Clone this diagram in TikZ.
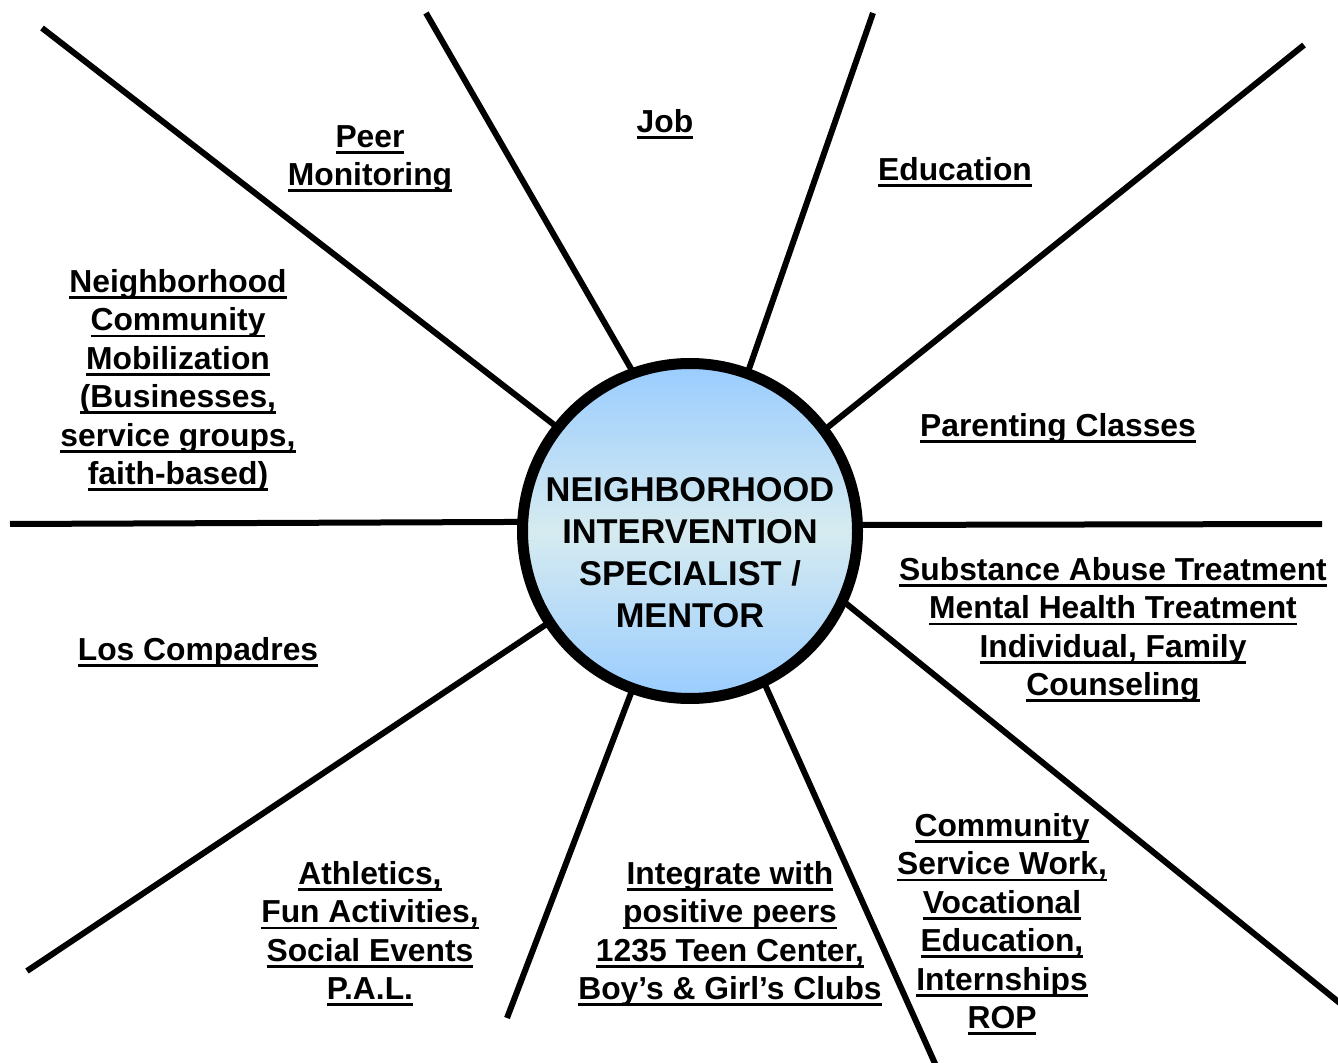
\documentclass[tikz,border=0pt]{standalone}
\usepackage{fontspec}
\setmainfont{Liberation Sans}
\usetikzlibrary{backgrounds}
\newcommand{\uln}[1]{\setbox0=\hbox{#1}\rlap{\rule[-3.3pt]{\wd0}{1.4pt}}\box0}
\definecolor{hubblue}{RGB}{153,204,255}
\definecolor{hubpale}{RGB}{214,235,240}
\tikzset{
	spoke/.style={line width=3pt, shorten <=-9pt},
	topic/.style={font=\fontsize{15.9}{19.2}\selectfont\bfseries, align=center, anchor=north, inner sep=0pt},
}

\begin{document}
\begin{tikzpicture}[x=0.5pt, y=-0.5pt]
	\useasboundingbox (0,0) rectangle (1338,1063);
	\node[circle, draw, line width=5.5pt, minimum size=167.5pt, inner sep=0pt,
		top color=hubblue, bottom color=hubblue, middle color=hubpale] (hub) at (690,531) {};
	\node[font=\fontsize{17.2}{21}\selectfont\bfseries, align=center, anchor=north, inner sep=0pt]
		(hubtext) at (690,477) {NEIGHBORHOOD\\INTERVENTION\\SPECIALIST /\\MENTOR};
	
	% outer ends of the spokes
	\coordinate (a) at (42,28);
	\coordinate (b) at (426,13);
	\coordinate (c) at (873,13);
	\coordinate (d) at (1304,45);
	\coordinate (e) at (10,524);
	\coordinate (f) at (1322,524);
	\coordinate (g) at (1341,1004);
	\coordinate (h) at (937,1068);
	\coordinate (i) at (507,1018);
	\coordinate (j) at (27,971);
	
	\begin{scope}[on background layer]
		\draw[spoke] (hub.142.2) -- (a);
		\draw[spoke] (hub.110.6) -- (b);
		\draw[spoke] (hub.70) -- (c);
		\draw[spoke] (hub.37.8) -- (d);
		\draw[spoke] (hub.177.7) -- (e);
		\draw[spoke] (hub.2.3) -- (f);
		\draw[spoke] (hub.-25.8) -- (g);
		\draw[spoke] (hub.-64.4) -- (h);
		\draw[spoke] (hub.-110.9) -- (i);
		\draw[spoke] (hub.-147.1) -- (j);
	\end{scope}
	
	\node[topic] (peer) at (370,125) {\uln{Peer}\\\uln{Monitoring}};
	\node[topic] (job) at (665,109) {\uln{Job}};
	\node[topic] (edu) at (955,157) {\uln{Education}};
	\node[topic] (mob) at (178,269) {\uln{Neighborhood}\\\uln{Community}\\\uln{Mobilization}\\\uln{(Businesses,}\\\uln{service groups,}\\\uln{faith-based)}};
	\node[topic] (parent) at (1058,413) {\uln{Parenting Classes}};
	\node[topic] (treat) at (1113,557) {\uln{Substance Abuse Treatment}\\\uln{Mental Health Treatment}\\\uln{Individual, Family}\\\uln{Counseling}};
	\node[topic] (los) at (198,637) {\uln{Los Compadres}};
	\node[topic] (ath) at (370,861) {\uln{Athletics,}\\\uln{Fun Activities,}\\\uln{Social Events}\\\uln{P.A.L.}};
	\node[topic] (peers) at (730,861) {\uln{Integrate with}\\\uln{positive peers}\\\uln{1235 Teen Center,}\\\uln{Boy’s \& Girl’s Clubs}};
	\node[topic] (work) at (1002,813) {\uln{Community}\\\uln{Service Work,}\\\uln{Vocational}\\\uln{Education,}\\\uln{Internships}\\\uln{ROP}};
\end{tikzpicture}
\end{document}
